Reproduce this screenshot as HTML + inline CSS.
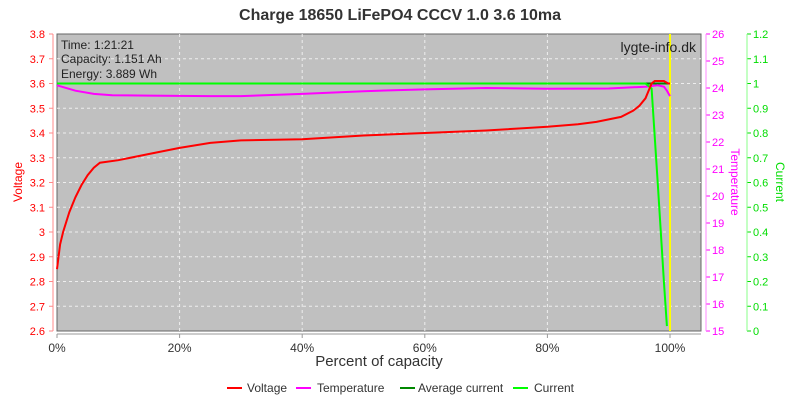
<!DOCTYPE html>
<html><head><meta charset="utf-8"><style>
body{margin:0;background:#fff;font-family:"Liberation Sans",sans-serif}
svg text{font-family:"Liberation Sans",sans-serif}
</style></head><body>
<svg width="800" height="400">
<text x="400" y="20" text-anchor="middle" font-size="16" font-weight="bold" fill="#333">Charge 18650 LiFePO4 CCCV 1.0 3.6 10ma</text>
<rect x="57" y="34" width="644" height="297" fill="#c0c0c0" stroke="#666"/>
<g id="grid"></g><g id="axes"></g><g id="series"></g>
<text x="61" y="49" font-size="12" fill="#222">Time: 1:21:21</text>
<text x="61" y="63" font-size="12" fill="#222">Capacity: 1.151 Ah</text>
<text x="61" y="78" font-size="12" fill="#222">Energy: 3.889 Wh</text>
<text x="696" y="52" font-size="14" fill="#222" text-anchor="end">lygte-info.dk</text>
<text x="22" y="182" font-size="12" fill="#f00" text-anchor="middle" transform="rotate(-90 22 182)">Voltage</text>
<text x="731" y="182" font-size="12" fill="#f0f" text-anchor="middle" transform="rotate(90 731 182)">Temperature</text>
<text x="776" y="182" font-size="12" fill="#0d0" text-anchor="middle" transform="rotate(90 776 182)">Current</text>
<text x="379" y="366" font-size="15" fill="#333" text-anchor="middle">Percent of capacity</text>
<g id="legend"></g>
</svg>
<script>
const NS="http://www.w3.org/2000/svg";
const xTicks=[0,20,40,60,80,100];
const vTicks=[2.6,2.7,2.8,2.9,3,3.1,3.2,3.3,3.4,3.5,3.6,3.7,3.8];
const tTicks=[15,16,17,18,19,20,21,22,23,24,25,26];
const cTicks=[0,0.1,0.2,0.3,0.4,0.5,0.6,0.7,0.8,0.9,1,1.1,1.2];
const vX=[0,0.5,1,2,3,4,5,6,7,10,15,20,25,30,40,50,60,70,80,85,88,92,94,95,96,97,97.5,99,99.7,100];
const vY=[2.85,2.95,3.0,3.08,3.14,3.19,3.23,3.26,3.28,3.29,3.315,3.34,3.36,3.37,3.375,3.39,3.40,3.41,3.425,3.435,3.445,3.465,3.49,3.51,3.54,3.6,3.61,3.61,3.6,3.6];
const tX=[0,3,6,9,15,25,30,40,50,60,70,80,90,96,98,99,99.5,100];
const tY=[24.1,23.9,23.78,23.73,23.72,23.7,23.7,23.78,23.88,23.95,24.0,23.97,23.98,24.05,24.1,24.05,23.9,23.7];
const aX=[0,97,100];const aY=[1.0,1.0,1.0];
const cX=[0,20,40,60,80,96,97,98,99,99.5];
const cY=[1.0,1.0,1.0,1.0,1.0,1.0,0.98,0.6,0.2,0.02];
const L=57,R=701,T=34,B=331;
const px=p=>L+p*(670-L)/100;
const yv=v=>B-(v-2.6)/1.2*(B-T);
const yt=t=>B-(t-15)/11*(B-T);
const yc=c=>B-c/1.2*(B-T);
function el(tag,a,parent,txt){const e=document.createElementNS(NS,tag);for(const k in a)e.setAttribute(k,a[k]);if(txt!==undefined)e.textContent=txt;document.getElementById(parent).appendChild(e);return e;}
vTicks.forEach(v=>{const y=yv(v);
 if(v>2.6&&v<3.8){const g=el('line',{x1:L,x2:R,y1:y,y2:y,stroke:'#eee','stroke-dasharray':'3,3'},'grid');}
 const t=el('text',{x:45,y:y+4,'font-size':11,fill:'#f00','text-anchor':'end'},'axes',String(v));
 el('line',{x1:49,x2:53,y1:y,y2:y,stroke:'#f88'},'axes');});
el('line',{x1:53,x2:53,y1:T,y2:B,stroke:'#f88'},'axes');
xTicks.forEach(p=>{const x=px(p);
 if(p>0){const g=el('line',{x1:x,x2:x,y1:T,y2:B,stroke:'#eee','stroke-dasharray':'3,3'},'grid');}
 const t=el('text',{x:x,y:352,'font-size':12,fill:'#333','text-anchor':'middle'},'axes',p+'%');
 el('line',{x1:x,x2:x,y1:B+3,y2:B+7,stroke:'#999'},'axes');});
el('line',{x1:L,x2:R,y1:B+3,y2:B+3,stroke:'#999'},'axes');
tTicks.forEach(v=>{const y=yt(v);el('line',{x1:706,x2:710,y1:y,y2:y,stroke:'#f0f'},'axes');
 const t=el('text',{x:712,y:y+4,'font-size':11,fill:'#f0f'},'axes',String(v));});
el('line',{x1:706,x2:706,y1:T,y2:B,stroke:'#f8f'},'axes');
cTicks.forEach(v=>{const y=yc(v);el('line',{x1:747,x2:751,y1:y,y2:y,stroke:'#0d0'},'axes');
 const t=el('text',{x:753,y:y+4,'font-size':11,fill:'#0d0'},'axes',String(v));});
el('line',{x1:747,x2:747,y1:T,y2:B,stroke:'#8f8'},'axes');
function line(xs,ys,fy,col,w,name){const d=xs.map((x,i)=>(i?'L':'M')+px(x).toFixed(1)+','+fy(ys[i]).toFixed(1)).join('');
 const p=el('path',{d:d,fill:'none',stroke:col,'stroke-width':w},'series');}
const yl=el('line',{x1:px(100),x2:px(100),y1:T,y2:B,stroke:'#ff0','stroke-width':2},'series');

line(aX,aY,yc,'#080',2,'series-average-current');
line(tX,tY,yt,'#f0f',2,'series-temperature');
line(cX,cY,yc,'#0f0',2,'series-current');
line(vX,vY,yv,'#f00',2,'series-voltage');
const leg=[['Voltage','#f00',227,247],['Temperature','#f0f',296,317],['Average current','#080',400,418],['Current','#0f0',513,534]];
leg.forEach(([n,c,x,tx])=>{el('line',{x1:x,x2:x+15,y1:388,y2:388,stroke:c,'stroke-width':2},'legend');
 const t=el('text',{x:tx,y:392,'font-size':12,fill:'#333'},'legend',n);});
</script>
</body></html>
